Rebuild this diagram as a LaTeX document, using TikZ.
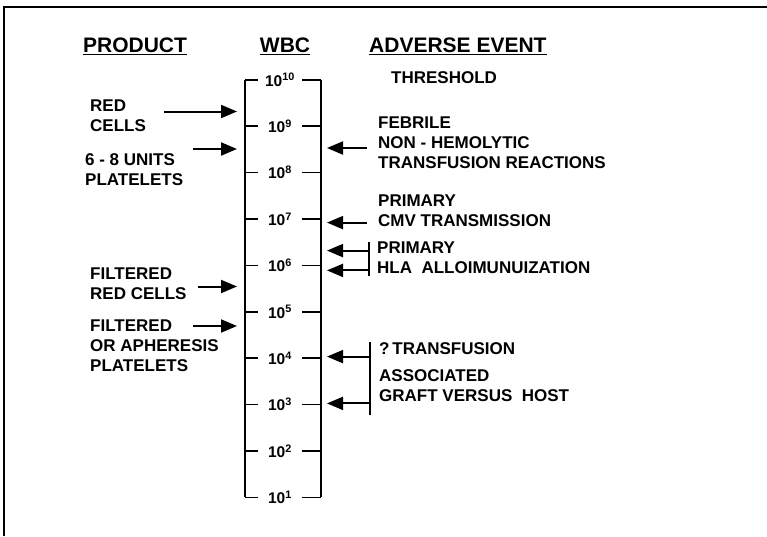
\documentclass[tikz,border=0pt]{standalone}
\usepackage{fontspec}
\setmainfont{Liberation Sans}
\usetikzlibrary{arrows.meta}

\begin{document}
\begin{tikzpicture}[x=1pt,y=-1pt,
        every node/.style={align=left,inner sep=0pt,font=\bfseries\fontsize{17}{20}\selectfont},
        head/.style={font=\bfseries\fontsize{21}{24}\selectfont},
        wbc/.style={font=\bfseries\fontsize{15.5}{17}\selectfont},
        arr/.style={line width=2pt,-{Triangle[length=16pt,width=13pt]}},
        scl/.style={line width=1.5pt}]
        \useasboundingbox (0,0) rectangle (767,536);
        \draw[line width=1.6pt] (4,536) -- (4,7) -- (767,7);

        \foreach \i in {1,2,...,10}{\coordinate (l\i) at (245,{497.4-(\i-1)*46.4}); }
        \foreach \i in {1,2,...,10}{\coordinate (li\i) at (258,{497.4-(\i-1)*46.4}); }
        \foreach \i in {1,2,...,10}{\coordinate (ri\i) at (302,{497.4-(\i-1)*46.4}); }
        \foreach \i in {1,2,...,10}{\coordinate (r\i) at (321,{497.4-(\i-1)*46.4}); }

        \foreach \i in {1,2,...,10}{\node[wbc] (w\i) at (280,{497.4-(\i-1)*46.4}) {10\textsuperscript{\i}}; }
        \foreach \i in {1,2,...,10}{\draw[scl] (l\i) -- (li\i); \draw[scl] (ri\i) -- (r\i); }
        \draw[scl] (l10) -- (l1);
        \draw[scl] (r10) -- (r1);

        \node[head] (prod) at (135,46) {\underline{PRODUCT}};
        \node[head] (wbc) at (285,46) {\underline{WBC}};
        \node[head,anchor=west] (adv) at (369,46) {\underline{ADVERSE EVENT}};
        \node[anchor=west] (thr) at (391,78) {THRESHOLD};

        \node[anchor=west] (rc) at (90,116) {RED\\CELLS};
        \node[anchor=west] (pl) at (85,170) {6 - 8 UNITS\\PLATELETS};
        \node[anchor=west] (frc) at (90,283.5) {FILTERED\\RED CELLS};
        \node[anchor=west] (fpl) at (90,346) {FILTERED\\OR APHERESIS\\PLATELETS};

        \coordinate (rcs) at (164,111.5);   \coordinate (rce) at (237,111.5);
        \coordinate (pls) at (193,149);     \coordinate (ple) at (237,149);
        \coordinate (frcs) at (198,286.5);  \coordinate (frce) at (237,286.5);
        \coordinate (fpls) at (193,326);    \coordinate (fple) at (237,326);
        \draw[arr] (rcs) -- (rce);
        \draw[arr] (pls) -- (ple);
        \draw[arr] (frcs) -- (frce);
        \draw[arr] (fpls) -- (fple);

        \node[anchor=west] (fnh) at (378,143) {FEBRILE\\NON - HEMOLYTIC\\TRANSFUSION REACTIONS};
        \node[anchor=west] (cmv) at (378,211) {PRIMARY\\CMV TRANSMISSION};
        \node[anchor=west] (hla) at (377,258) {PRIMARY\\HLA\ \ ALLOIMUNUIZATION};
        \node[anchor=west] (gvh) at (379,372) {?\,TRANSFUSION\\[7pt]ASSOCIATED\\GRAFT VERSUS\ \ HOST};

        \coordinate (fnhs) at (367,148);    \coordinate (fnhe) at (327,148);
        \coordinate (cmvs) at (367,222.6);  \coordinate (cmve) at (327,222.6);
        \coordinate (hlat) at (369,242);    \coordinate (hlab) at (369,276);
        \coordinate (hla1) at (369,250.6);  \coordinate (hla1e) at (327,250.6);
        \coordinate (hla2) at (369,270.4);  \coordinate (hla2e) at (327,270.4);
        \coordinate (gvht) at (370,342);    \coordinate (gvhb) at (370,415);
        \coordinate (gvh1) at (370,356.6);  \coordinate (gvh1e) at (327,356.6);
        \coordinate (gvh2) at (370,403.4);  \coordinate (gvh2e) at (327,403.4);
        \draw[arr] (fnhs) -- (fnhe);
        \draw[arr] (cmvs) -- (cmve);
        \draw[scl] (hlat) -- (hlab);
        \draw[arr] (hla1) -- (hla1e);
        \draw[arr] (hla2) -- (hla2e);
        \draw[scl] (gvht) -- (gvhb);
        \draw[arr] (gvh1) -- (gvh1e);
        \draw[arr] (gvh2) -- (gvh2e);
\end{tikzpicture}
\end{document}
